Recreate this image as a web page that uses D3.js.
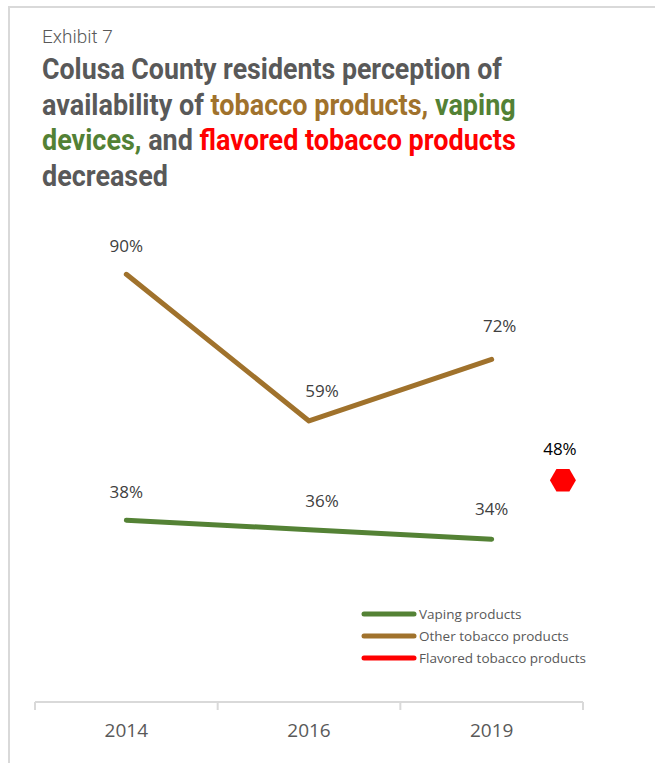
<!DOCTYPE html>
<html>
<head>
<meta charset="utf-8">
<script src="https://cdn.jsdelivr.net/npm/d3@7"></script>
<style>
  body { margin: 0; background: #fff; }
</style>
</head>
<body>
<script>
// chart data
var years = ["2014", "2016", "2019"];
var otherTobacco = [90, 59, 72];
var vaping = [38, 36, 34];
var flavoredYear = "2019";
var flavored = [48];

var seriesNames = ["Vaping products", "Other tobacco products", "Flavored tobacco products"];
var seriesColors = ["#548235", "#A0722C", "#FF0000"];

var w = 655, h = 763;

var svg = d3.select("body")
    .append("svg")
    .attr("width", w)
    .attr("height", h)
    .style("font-family", "'Open Sans', sans-serif");

// frame
svg.append("rect")
    .attr("x", 9)
    .attr("y", 7)
    .attr("width", 700)
    .attr("height", 800)
    .attr("fill", "none")
    .attr("stroke", "#d9d9d9")
    .attr("stroke-width", 2);

// header
svg.append("text")
    .attr("x", 42)
    .attr("y", 43)
    .attr("fill", "#595959")
    .style("font-family", "Roboto, sans-serif")
    .style("font-weight", "300")
    .style("font-size", "19px")
    .text("Exhibit 7");

var titleLines = [
    [["Colusa County residents perception of", "#595959"]],
    [["availability of ", "#595959"], ["tobacco products,", "#A0722C"], [" vaping", "#538135"]],
    [["devices,", "#538135"], [" and ", "#595959"], ["flavored tobacco products", "#FF0000"]],
    [["decreased", "#595959"]]
];
var titleWidths = [460, 474, 474, 126];

titleLines.forEach(function(line, i){
    var t = svg.append("text")
        .attr("x", 0)
        .attr("y", 0)
        .style("font-family", "Roboto, sans-serif")
        .style("font-weight", "bold")
        .style("font-size", "29.5px");
    line.forEach(function(seg){
        t.append("tspan").attr("fill", seg[1]).text(seg[0]);
    });
    // squeeze horizontally to the condensed width of the original
    var natural = t.node().getComputedTextLength();
    var sx = titleWidths[i] / natural;
    t.attr("transform", "translate(42," + (79 + i * 35.5) + ") scale(" + sx + ",1)");
});

// scales
var x = d3.scaleBand()
    .domain(years)
    .range([35, 583]);

var y = d3.scaleLinear()
    .domain([0, 100])
    .range([700, 227]);

// secondary axis for the single flavored point
var y2 = d3.scaleLinear()
    .domain([0, 100])
    .range([702, 240]);

function cx(d, i){ return x(years[i]) + x.bandwidth() / 2; }

// x axis
var xAxis = d3.axisBottom(x)
    .tickSize(0)
    .tickPadding(22);

var axisG = svg.append("g")
    .attr("transform", "translate(0,702)")
    .call(xAxis);
axisG.select(".domain").remove();
axisG.selectAll("text")
    .attr("fill", "#595959")
    .style("font-family", "'Open Sans', sans-serif")
    .style("font-size", "19px");

axisG.append("line")
    .attr("x1", x.range()[0])
    .attr("x2", x.range()[1])
    .attr("stroke", "#d9d9d9")
    .attr("stroke-width", 2);

axisG.selectAll(".band-tick")
    .data(years.concat(["end"]))
    .enter()
    .append("line")
    .attr("class", "band-tick")
    .attr("x1", function(d, i){ return x.range()[0] + i * x.step(); })
    .attr("x2", function(d, i){ return x.range()[0] + i * x.step(); })
    .attr("y1", 0)
    .attr("y2", 8)
    .attr("stroke", "#d9d9d9")
    .attr("stroke-width", 2);

// lines
var line = d3.line()
    .x(cx)
    .y(function(d){ return y(d); });

svg.append("path")
    .datum(otherTobacco)
    .attr("d", line)
    .attr("fill", "none")
    .attr("stroke", seriesColors[1])
    .attr("stroke-width", 5)
    .attr("stroke-linecap", "round")
    .attr("stroke-linejoin", "round");

svg.append("path")
    .datum(vaping)
    .attr("d", line)
    .attr("fill", "none")
    .attr("stroke", seriesColors[0])
    .attr("stroke-width", 5)
    .attr("stroke-linecap", "round")
    .attr("stroke-linejoin", "round");

// data labels
var otherOffsets = [[0, -28], [13, -30], [8, -33]];
var vapingOffsets = [[0, -28], [13, -29], [0, -30]];

svg.selectAll(".lblOther")
    .data(otherTobacco)
    .enter()
    .append("text")
    .attr("class", "lblOther")
    .attr("x", function(d, i){ return cx(d, i) + otherOffsets[i][0]; })
    .attr("y", function(d, i){ return y(d) + otherOffsets[i][1] + 6; })
    .attr("text-anchor", "middle")
    .attr("fill", "#404040")
    .style("font-size", "17px")
    .text(function(d){ return d + "%"; });

svg.selectAll(".lblVaping")
    .data(vaping)
    .enter()
    .append("text")
    .attr("class", "lblVaping")
    .attr("x", function(d, i){ return cx(d, i) + vapingOffsets[i][0]; })
    .attr("y", function(d, i){ return y(d) + vapingOffsets[i][1] + 6; })
    .attr("text-anchor", "middle")
    .attr("fill", "#404040")
    .style("font-size", "17px")
    .text(function(d){ return d + "%"; });

// flavored hexagon marker, set just right of the 2019 point
var hexX = x(flavoredYear) + x.bandwidth() * 0.89;
var hexR = 13;
var hex = d3.range(6).map(function(k){
    var a = Math.PI / 3 * k;
    return [Math.cos(a) * hexR, Math.sin(a) * hexR];
});

svg.selectAll(".flavored")
    .data(flavored)
    .enter()
    .append("polygon")
    .attr("class", "flavored")
    .attr("points", hex.map(function(p){ return p.join(","); }).join(" "))
    .attr("transform", function(d){ return "translate(" + hexX + "," + y2(d) + ")"; })
    .attr("fill", seriesColors[2]);

svg.selectAll(".lblFlavored")
    .data(flavored)
    .enter()
    .append("text")
    .attr("class", "lblFlavored")
    .attr("x", hexX - 3)
    .attr("y", function(d){ return y2(d) - 31 + 6; })
    .attr("text-anchor", "middle")
    .attr("fill", "#000")
    .style("font-size", "17px")
    .text(function(d){ return d + "%"; });

// legend
var legend = svg.append("g")
    .attr("transform", "translate(362,614)");

var legendItems = legend.selectAll(".legend-item")
    .data(seriesNames)
    .enter()
    .append("g")
    .attr("class", "legend-item")
    .attr("transform", function(d, i){ return "translate(0," + (i * 22) + ")"; });

legendItems.append("line")
    .attr("x1", 2)
    .attr("x2", 52)
    .attr("stroke", function(d, i){ return seriesColors[i]; })
    .attr("stroke-width", 5)
    .attr("stroke-linecap", "round");

legendItems.append("text")
    .attr("x", 57)
    .attr("y", 5)
    .attr("fill", "#595959")
    .style("font-size", "13.5px")
    .text(function(d){ return d; });
</script>
</body>
</html>
